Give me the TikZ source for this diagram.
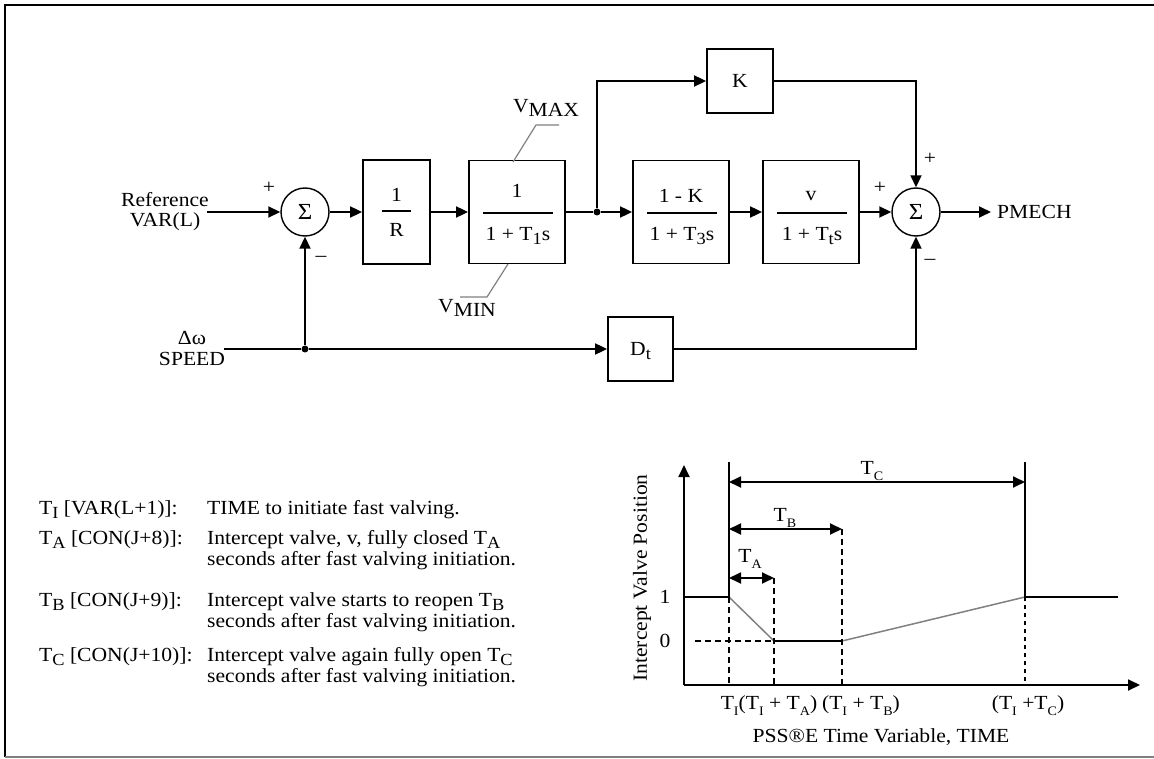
\documentclass[tikz,border=0pt]{standalone}
\usepackage{fontspec}
\setmainfont[FakeStretch=1.08]{Liberation Serif}
\usetikzlibrary{arrows.meta,calc}
\newcommand{\lsub}[1]{\raisebox{-0.22em}[0.6em][0pt]{\fontsize{17}{17}\selectfont #1}}
\newcommand{\tsub}[1]{\raisebox{-0.16em}[0.6em][0pt]{\fontsize{17}{17}\selectfont #1}}
\newcommand{\gsub}[1]{\raisebox{-0.28em}[0.5em][0pt]{\fontsize{13}{13}\selectfont #1}}
\begin{document}
\begin{tikzpicture}[x=1pt,y=-1pt,
  every node/.style={font=\fontsize{20}{24}\selectfont, inner sep=0pt},
  blk/.style={draw, line width=1.8pt},
  sumc/.style={draw, circle, line width=1.4pt, minimum size=48pt, font=\fontsize{23}{23}\selectfont},
  ln/.style={line width=1.8pt},
  arr/.style={-{Triangle[length=12pt,width=11pt]}, line width=1.8pt},
  darr/.style={{Triangle[length=12pt,width=11pt]}-{Triangle[length=12pt,width=11pt]}, line width=1.8pt},
  dotn/.style={circle, fill, minimum size=7pt},
  dsh/.style={line width=1.5pt, dash pattern=on 6pt off 4pt},
  lead/.style={line width=1.2pt, gray},
  sgn/.style={font=\fontsize{20}{20}\selectfont},
  frl/.style={line width=1.5pt}
]
\useasboundingbox (0,0) rectangle (1154,759);
% frame
\draw[line width=2pt] (1160,5) -- (5,5) -- (5,757);
\draw[line width=1.5pt, gray] (5,757) -- (1160,757);

% ---------- block diagram ----------
\node[sumc] (s1) at (305,212) {Σ};
\node[blk, minimum width=67pt, minimum height=104pt] (bR) at (396.5,212) {};
\node[blk, minimum width=96pt, minimum height=103pt] (b1) at (517,212) {};
\node[blk, minimum width=66pt, minimum height=64pt] (bK) at (740,81) {K};
\node[blk, minimum width=96pt, minimum height=103pt] (b3) at (681,212) {};
\node[blk, minimum width=96pt, minimum height=103pt] (bt) at (811,212) {};
\node[sumc] (s2) at (916,212) {Σ};
\node[blk, minimum width=65pt, minimum height=64pt] (bD) at (640.5,349) {D\lsub{t}};

% fractions
\node (nR) at ($(bR.center)+(0,-17)$) {1};
\draw[frl] ($(bR.center)+(-14.5,-1)$) -- ++(29,0);
\node (dR) at ($(bR.center)+(0,18)$) {R};

\node (n1) at ($(b1.center)+(0,-21)$) {1};
\draw[frl] ($(b1.center)+(-34,1)$) -- ++(70,0);
\node (d1t) at ($(b1.center)+(1,22)$) {1 + T\lsub{1}s};

\node (n3) at ($(b3.center)+(0,-16)$) {1 - K};
\draw[frl] ($(b3.center)+(-34,1)$) -- ++(70,0);
\node (d3t) at ($(b3.center)+(1,22)$) {1 + T\lsub{3}s};

\node (nt) at ($(bt.center)+(0,-16)$) {v};
\draw[frl] ($(bt.center)+(-34,1)$) -- ++(70,0);
\node (dtt) at ($(bt.center)+(1,22)$) {1 + T\lsub{t}s};

% limits
\node (vmax) at (546,108) {V\raisebox{-4pt}{MAX}};
\draw[lead] (513,162) -- (536,125) -- (559,125);
\node (vmin) at (467,308) {V\raisebox{-4pt}{MIN}};
\draw[lead] (508,264) -- (487,297) -- (460,297);

% inputs / outputs
\node[align=center, font=\fontsize{20}{20}\selectfont] (reft) at (165,212) {Reference\\VAR(L)};
\coordinate (ref) at (207,212);
\draw[arr] (ref) -- (s1);
\draw[arr] (s1) -- (bR);
\draw[arr] (bR) -- (b1);
\node[dotn] (j1) at (597,212) {};
\draw[ln] (b1) -- (j1);
\draw[arr] (j1) -- (b3);
\draw[arr] (j1) |- (bK);
\draw[arr] (b3) -- (bt);
\draw[arr] (bt) -- (s2);
\draw[arr] (bK) -| (s2);
\node[anchor=west] (pm) at (997,212) {PMECH};
\draw[arr] (s2) -- ([xshift=-6pt]pm.west);

\node[align=center, font=\fontsize{20}{21}\selectfont] (spdt) at (192,348) {Δω\\SPEED};
\coordinate (spd) at (224,349);
\node[dotn] (j2) at (305,349) {};
\draw[ln] (spd) -- (j2);
\draw[arr] (j2) -- (bD);
\draw[arr] (j2) -- (s1);
\draw[arr] (bD) -| (s2);

% signs
\node[sgn] at (269,188) {+};
\node[sgn] at (321,259) {–};
\node[sgn] at (880,188) {+};
\node[sgn] at (930,159) {+};
\node[sgn] at (930,262) {–};

% ---------- legend ----------
\node[anchor=west] (l1) at (39,510) {T\tsub{I} [VAR(L+1)]:};
\node[anchor=west] (r1) at (207,510) {TIME to initiate fast valving.};
\node[anchor=west] (l2) at (39,540) {T\tsub{A} [CON(J+8)]:};
\node[anchor=west] (r2a) at (207,540) {Intercept valve, v, fully closed T\tsub{A}};
\node[anchor=west] (r2b) at (207,561) {seconds after fast valving initiation.};
\node[anchor=west] (l3) at (39,602) {T\tsub{B} [CON(J+9)]:};
\node[anchor=west] (r3a) at (207,602) {Intercept valve starts to reopen T\tsub{B}};
\node[anchor=west] (r3b) at (207,623) {seconds after fast valving initiation.};
\node[anchor=west] (l4) at (39,657) {T\tsub{C} [CON(J+10)]:};
\node[anchor=west] (r4a) at (207,657) {Intercept valve again fully open T\tsub{C}};
\node[anchor=west] (r4b) at (207,678) {seconds after fast valving initiation.};

% ---------- graph ----------
\coordinate (org) at (684,685);
\coordinate (ytip) at (684,465);
\coordinate (xtip) at (1140,685);
\draw[arr] (org) -- (ytip);
\draw[arr] (org) -- (xtip);
\coordinate (a1) at (729,597);
\coordinate (aA) at (774,641);
\coordinate (aB) at (842,641);
\coordinate (aC) at (1025,597);
\draw[ln] (684,597) -- (a1);
\draw[ln] (aC) -- (1118,597);
\draw[line width=1.5pt, gray] (a1) -- (aA);
\draw[ln] (aA) -- (aB);
\draw[line width=1.5pt, gray] (aB) -- (aC);
\draw[ln] (729,462) -- (a1);
\draw[dsh] (a1) -- (729,685);
\draw[ln] (1025,462) -- (aC);
\draw[dsh, dash pattern=on 4pt off 4pt] (aC) -- (1025,685);
\draw[darr] (729,482) -- (1025,482);
\draw[darr] (729,529) -- (842,529);
\draw[dsh] (842,529) -- (842,685);
\draw[darr] (729,578) -- (774,578);
\draw[dsh] (774,578) -- (774,685);
\draw[dsh] (695,641) -- (aA);
\node (tc) at (872,468) {T\gsub{C}};
\node (tb) at (785,515) {T\gsub{B}};
\node (ta) at (750,556) {T\gsub{A}};
\node (one) at (665,597) {1};
\node (zero) at (665,641) {0};
\node (x1) at (769,705) {T\gsub{I}(T\gsub{I} + T\gsub{A})};
\node (x2) at (861,705) {(T\gsub{I} + T\gsub{B})};
\node (x3) at (1028,705) {(T\gsub{I} +T\gsub{C})};
\node (xl) at (881,737) {PSS®E Time Variable, TIME};
\node[rotate=90] (yl) at (642,578) {Intercept Valve Position};
\end{tikzpicture}
\end{document}
